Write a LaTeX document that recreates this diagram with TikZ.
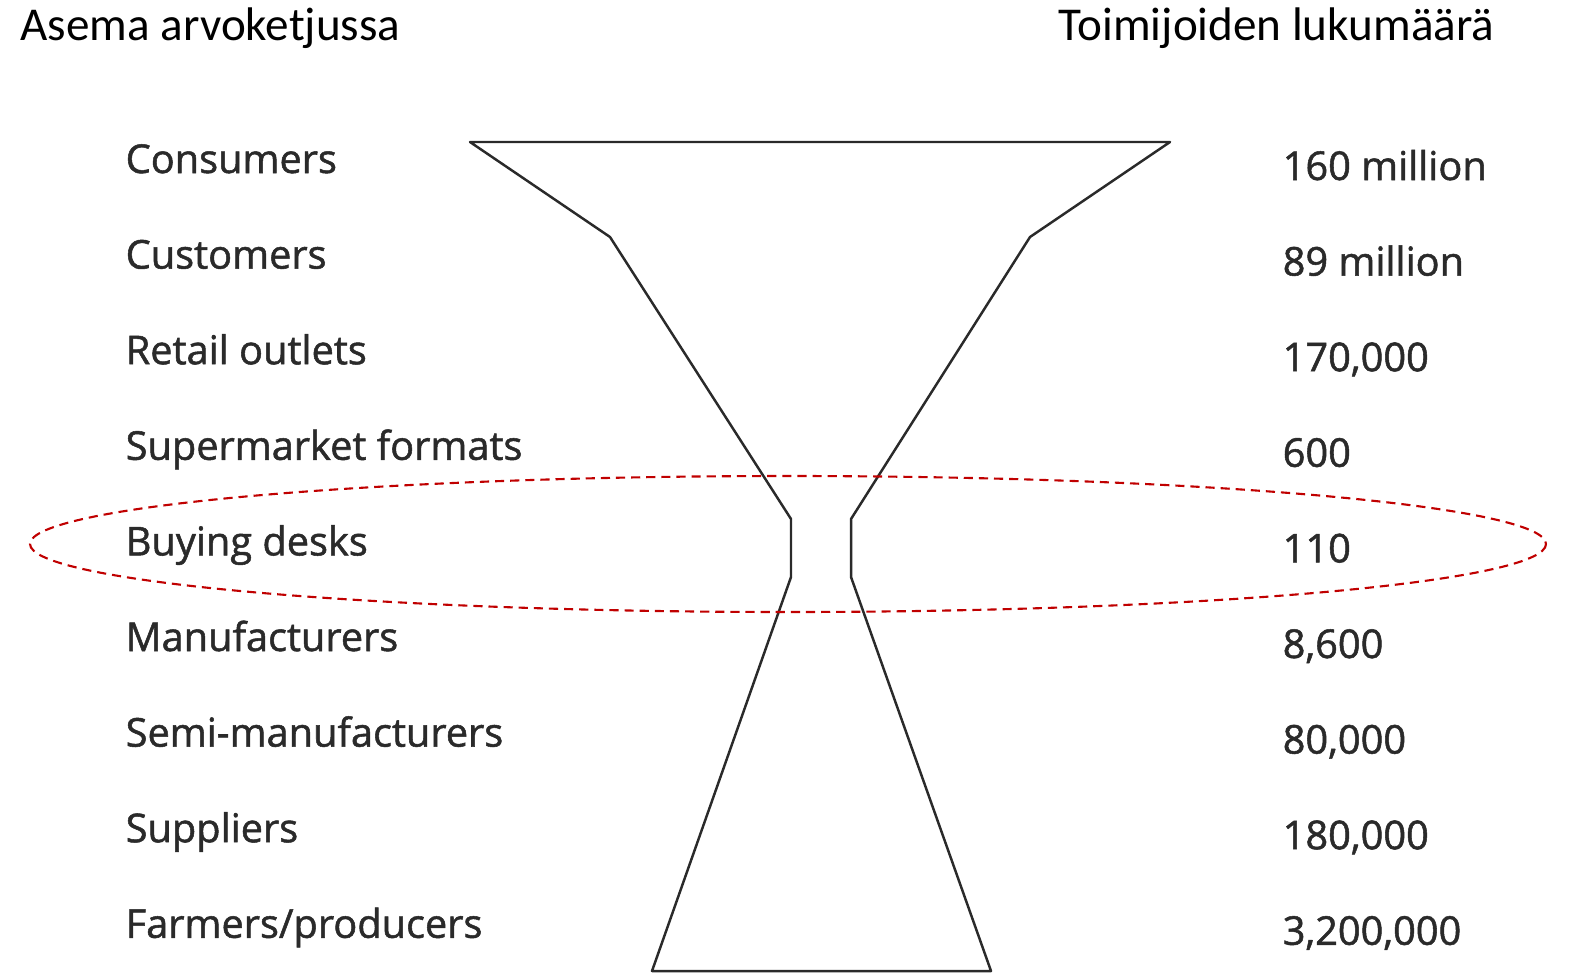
\documentclass[tikz,border=0pt]{standalone}
\usepackage{fontspec}
\setmainfont{Open Sans}
\newfontfamily\headfont{Carlito}
\newfontfamily\stagefont[FakeBold=1.3]{Open Sans}
\usetikzlibrary{positioning}
\definecolor{inkgray}{HTML}{2A2A2A}
\definecolor{ovalred}{HTML}{C00000}

\begin{document}
\begin{tikzpicture}[x=0.01cm,y=-0.01cm,
  head/.style={font=\headfont\fontsize{13.4}{16}\selectfont},
  stage/.style={anchor=base west,inner sep=0pt,text=inkgray,font=\stagefont\fontsize{11.3}{13}\selectfont},
  count/.style={anchor=base west,inner sep=0pt,text=inkgray,font=\stagefont\fontsize{11.3}{13}\selectfont}]
\useasboundingbox (0,0) rectangle (1571,973);

\node (h0) at (20,28) [anchor=west,inner sep=0pt,head] {Asema arvoketjussa};
\node (h1) at (1495,28) [anchor=east,inner sep=0pt,head] {Toimijoiden lukumäärä};

% hourglass outline
\coordinate (tl) at (470,142);
\coordinate (tr) at (1170,142);
\coordinate (kl) at (610,237);
\coordinate (kr) at (1030,237);
\coordinate (nl0) at (791,519);
\coordinate (nr0) at (851,519);
\coordinate (nl1) at (791,577);
\coordinate (nr1) at (851,577);
\coordinate (bl) at (652,971);
\coordinate (br) at (991,971);
\draw[inkgray,line width=0.7pt,line join=round] (tl) -- (tr) -- (kr) -- (nr0) -- (nr1) -- (br) -- (bl) -- (nl1) -- (nl0) -- (kl) -- cycle;

\foreach \txt/\num [count=\i from 0] in {Consumers/160 million, Customers/89 million, Retail outlets/{170,000}, Supermarket formats/600, Buying desks/110, Manufacturers/{8,600}, Semi-manufacturers/{80,000}, Suppliers/{180,000}, {Farmers/producers}/{3,200,000}} {
\node (s\i) at (125,173+95.6*\i) [stage] {\txt};
\node (n\i) at (1282,180+95.6*\i) [count] {\num};
}

\coordinate (oc) at (788,544);
\draw[ovalred,line width=0.6pt,dash pattern=on 2.6pt off 1.7pt] (oc) ellipse [x radius=758,y radius=68];
\end{tikzpicture}
\end{document}
